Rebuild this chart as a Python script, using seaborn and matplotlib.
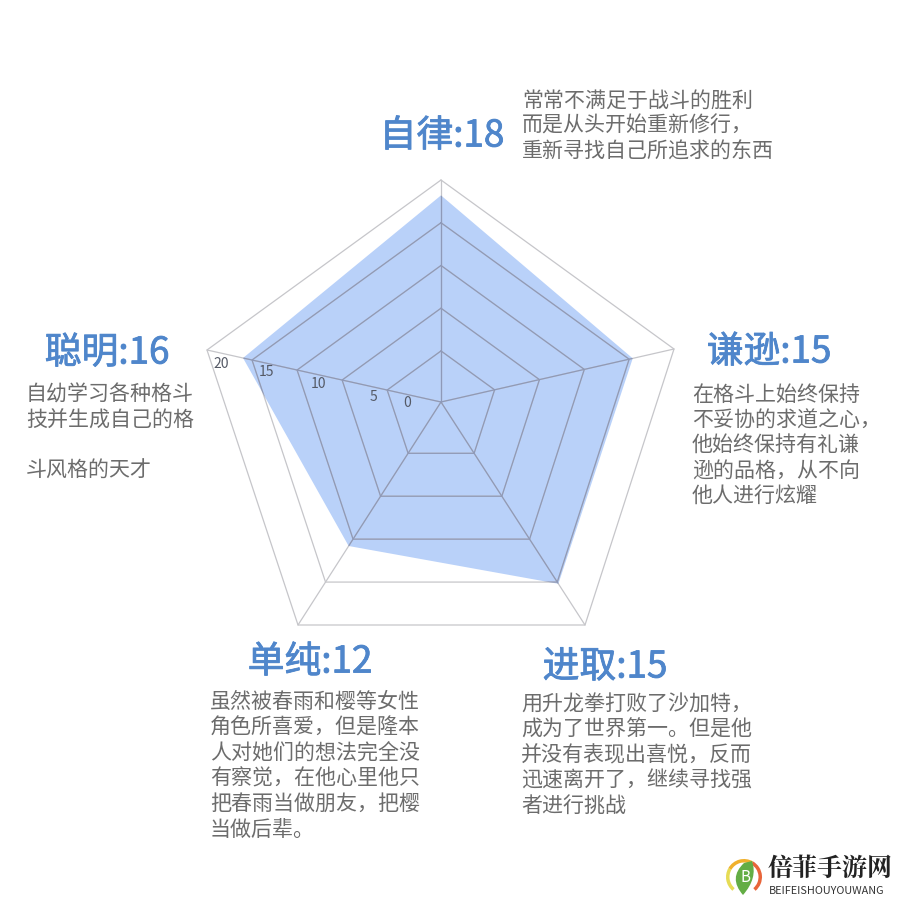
import numpy as np
import pandas as pd
import seaborn as sns
import matplotlib
matplotlib.use("Agg")
import matplotlib.pyplot as plt
import matplotlib.patheffects as pe
from matplotlib.patches import Wedge, PathPatch, Polygon
from matplotlib.path import Path

# ---- data ----
axis_names = ["自律", "谦逊", "进取", "单纯", "聪明"]
axis_labels = [18, 15, 15, 12, 16]
drawn_values = [18.2, 15.4, 15.2, 10.8, 16.0]
ring_values = [0, 5, 10, 15, 20]
captions = [
    "常常不满足于战斗的胜利\n而是从头开始重新修行，\n重新寻找自己所追求的东西",
    "在格斗上始终保持\n不妥协的求道之心，\n他始终保持有礼谦\n逊的品格，从不向\n他人进行炫耀",
    "用升龙拳打败了沙加特，\n成为了世界第一。但是他\n并没有表现出喜悦，反而\n迅速离开了，继续寻找强\n者进行挑战",
    "虽然被春雨和樱等女性\n角色所喜爱，但是隆本\n人对她们的想法完全没\n有察觉，在他心里他只\n把春雨当做朋友，把樱\n当做后辈。",
    "自幼学习各种格斗\n技并生成自己的格\n\n斗风格的天才",
]

# ---- layout (pixels of the 900x900 canvas) ----
CENTER = np.array([441.0, 402.0])
OUTER = np.array([[441, 180], [674, 349], [585, 625], [298, 625], [207, 350]], float)
INNER_FRAC = 0.23
FRAC_PER_UNIT = (1 - INNER_FRAC) / 20
def to_xy(value, spoke):
    return CENTER + (OUTER[spoke] - CENTER) * (INNER_FRAC + FRAC_PER_UNIT * value)

sns.set_theme(style="white")
plt.rcParams["font.family"] = ["Noto Sans CJK SC", "DejaVu Sans"]
fig, ax = plt.subplots(figsize=(9, 9), dpi=100)
ax.set_position([0, 0, 1, 1])
ax.set_xlim(0, 900); ax.set_ylim(900, 0); ax.axis("off")

n = len(axis_names)
closed = list(range(n)) + [0]

# filled value polygon
poly = np.array([to_xy(v, i) for i, v in enumerate(drawn_values)])
ax.fill(poly[:, 0], poly[:, 1], color="#b9d1f9", lw=0, zorder=1)
clip = Polygon(poly, closed=True, transform=ax.transData)

LIGHT, DARK = "#c6c6ca", "#8e99b8"
def draw(xs, ys):
    sns.lineplot(x=xs, y=ys, sort=False, estimator=None, ax=ax, color=LIGHT, lw=0.9, zorder=2)
    sns.lineplot(x=xs, y=ys, sort=False, estimator=None, ax=ax, color=DARK, lw=0.9, zorder=2.1)
    ax.lines[-1].set_clip_path(clip)

# rings
rows = []
for rv in ring_values:
    for k, s in enumerate(closed):
        p = to_xy(rv, s)
        rows.append((rv, k, p[0], p[1]))
rings = pd.DataFrame(rows, columns=["ring", "order", "x", "y"])
for rv, g in rings.groupby("ring"):
    draw(g["x"].to_numpy(), g["y"].to_numpy())
# spokes
for i in range(n):
    draw(np.array([CENTER[0], OUTER[i, 0]]), np.array([CENTER[1], OUTER[i, 1]]))
ax.set_xlabel(""); ax.set_ylabel("")

# ring tick labels
for rv, x, y in zip(ring_values, [407, 373, 319, 266, 221], [403, 397, 384, 372, 364]):
    ax.text(x, y, str(rv), fontsize=10, color="#555a66", ha="center", va="center", zorder=3)

# headings
BLUE = "#4f86cb"
head_pos = [(442, 136), (769, 352), (605, 667), (310, 662), (107, 353)]
for name, val, (x, y) in zip(axis_names, axis_labels, head_pos):
    ax.text(x, y, f"{name}:{val}", fontsize=26.5, color=BLUE, ha="center", va="center",
            fontweight="medium", zorder=3,
            path_effects=[pe.withStroke(linewidth=0.6, foreground=BLUE)])

# captions
GREY = "#6c6c6c"
cap_pos = [(522, 126), (692, 446), (521, 755), (210, 766), (26, 433)]
for t, (x, y) in zip(captions, cap_pos):
    ax.text(x, y, t, fontsize=15.1, color=GREY, ha="left", va="center", linespacing=1.2, zorder=3)

# watermark
cx, cy = 744, 877
ax.add_patch(Wedge((cx, cy), 18, 130, 210, width=3.5, color="#e6dc55", lw=0))
ax.add_patch(Wedge((cx, cy), 18, 210, 300, width=3.5, color="#f0b02c", lw=0))
ax.add_patch(Wedge((cx, cy), 18, 300, 410, width=3.5, color="#e8653a", lw=0))
leaf = Path([(743, 895), (728, 878), (744, 863), (752, 861), (758, 878), (743, 895)],
            [Path.MOVETO, Path.CURVE3, Path.CURVE3, Path.LINETO, Path.CURVE3, Path.CURVE3])
ax.add_patch(PathPatch(leaf, fc="#63ad45", ec="none"))
ax.text(745, 877, "B", fontsize=11, color="white", ha="center", va="center", style="italic")
ax.text(830, 869, "倍菲手游网", fontsize=18, color="#222222", ha="center", va="center",
        fontweight="bold", family=["Noto Serif CJK SC", "Noto Sans CJK SC"])
ax.text(827, 891, "BEIFEISHOUYOUWANG", fontsize=7.8, color="#333333", ha="center", va="center")

fig.savefig("out.png", dpi=100, facecolor="white")
